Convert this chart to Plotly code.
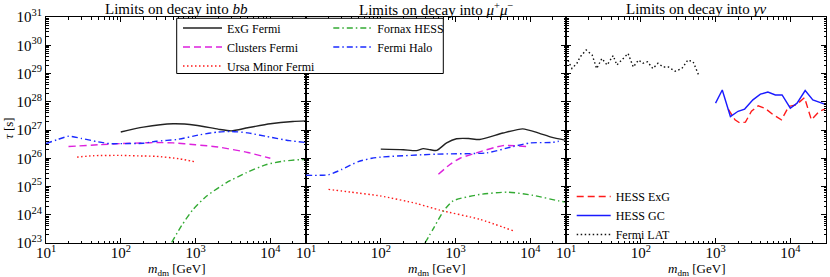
import plotly.graph_objects as go

# ---------------- data ----------------
# Panel 1: decay into b bbar
bb_exg_m = [100, 200, 500, 1000, 2000, 3000, 5000, 10000, 20000, 30000]
bb_exg_tau = [8.5e26, 1.26e27, 1.66e27, 1.48e27, 1.07e27, 9.3e26, 1.2e27, 1.66e27, 2.0e27, 2.1e27]

bb_clu_m = [20, 50, 100, 200, 300, 500, 1000, 2000, 5000, 10000]
bb_clu_tau = [2.6e26, 3.0e26, 3.3e26, 3.5e26, 3.6e26, 3.5e26, 3.0e26, 2.5e26, 1.6e26, 1.0e26]

bb_umi_m = [26, 43, 100, 200, 300, 620, 1000]
bb_umi_tau = [1.1e26, 1.23e26, 1.26e26, 1.2e26, 1.17e26, 9.5e25, 7.4e25]

bb_for_m = [480, 650, 930, 1410, 2570, 4790, 8900, 14800, 24500, 30000]
bb_for_tau = [1.05e23, 4.1e23, 1.55e24, 4.6e24, 1.35e25, 3.1e25, 6.0e25, 7.9e25, 8.9e25, 9.0e25]

bb_hal_m = [10, 14, 20, 30, 50, 70, 100, 200, 300, 560, 1150, 2000, 3000, 5000, 8900, 18000, 30000]
bb_hal_tau = [3.3e26, 4.5e26, 6.0e26, 5.0e26, 3.8e26, 3.3e26, 3.3e26, 3.4e26, 4.0e26, 4.6e26,
              6.8e26, 8.5e26, 8.9e26, 7.9e26, 5.9e26, 4.2e26, 3.6e26]

# Panel 2: decay into mu+ mu-
mu_exg_m = [100, 200, 300, 370, 460, 560, 760, 1030, 1500, 2100, 4300, 7900, 13000, 19000, 30000]
mu_exg_tau = [2.1e26, 2.0e26, 1.86e26, 2.2e26, 2.0e26, 1.9e26, 3.5e26, 4.9e26, 5.0e26, 4.6e26,
              7.8e26, 1.1e27, 7.8e26, 5.6e26, 4.3e26]

mu_clu_m = [590, 840, 1150, 1900, 4300, 8900]
mu_clu_tau = [2.7e25, 6.0e25, 1.0e26, 1.55e26, 2.8e26, 2.6e26]

mu_umi_m = [20, 40, 100, 300, 620, 2100, 5900]
mu_umi_tau = [7.9e24, 6.3e24, 4.6e24, 2.5e24, 1.45e24, 6.9e23, 2.7e23]

mu_for_m = [390, 500, 690, 930, 2100, 5000, 10700, 24000, 30000]
mu_for_tau = [1.0e23, 3.1e23, 1.35e24, 3.1e24, 5.2e24, 6.3e24, 4.9e24, 3.1e24, 2.8e24]

mu_hal_m = [10, 20, 30, 50, 76, 100, 560, 2600, 5900, 10000, 19000, 24000]
mu_hal_tau = [2.5e25, 2.6e25, 4.0e25, 7.6e25, 1.0e26, 1.1e26, 1.4e26, 1.55e26, 2.6e26, 3.5e26, 3.6e26, 4.0e26]

# Panel 3: decay into gamma nu
gn_exg_m = [1480, 1820, 2090, 2510, 3020, 3720, 4570, 5890, 7590, 9550, 12000, 15500, 19100, 24500, 28800]
gn_exg_tau = [5.5e27, 2.3e27, 1.8e27, 1.9e27, 4.6e27, 7.2e27, 5.9e27, 3.5e27, 2.3e27, 6.8e27,
              7.8e27, 1.4e28, 2.3e27, 4.6e27, 5.5e27]

gn_gc_m = [1000, 1230, 1580, 2000, 2450, 3160, 3980, 5010, 6310, 7760, 10000, 12300, 15800, 20000, 28800]
gn_gc_tau = [8.9e27, 2.6e28, 3.0e27, 4.6e27, 5.5e27, 1.17e28, 1.86e28, 2.2e28, 1.74e28, 1.74e28,
             5.9e27, 8.9e27, 2.5e28, 1.17e28, 8.3e27]

gn_lat_m = [10.1, 12.0, 14.0, 15.5, 18.6, 22.4, 25.7, 30.2, 35.5, 42.7, 47.9, 56.2, 67.6, 79.4, 93.3,
            107, 123, 145, 170, 200, 234, 288, 355, 427, 501, 589]
gn_lat_tau = [3.9e29, 1.5e29, 2.3e29, 3.9e29, 6.8e29, 4.5e29, 1.5e29, 3.4e29, 2.0e29, 4.3e29, 2.0e29,
              3.0e29, 5.1e29, 1.7e29, 3.0e29, 2.3e29, 2.6e29, 1.5e29, 2.3e29, 1.7e29, 1.7e29, 1.2e29,
              1.5e29, 3.0e29, 2.6e29, 9.3e28]

x_tickvals = [10, 100, 1000, 10000]
x_ticktext = ["10<sup>1</sup>", "10<sup>2</sup>", "10<sup>3</sup>", "10<sup>4</sup>"]
y_exps = [23, 24, 25, 26, 27, 28, 29, 30, 31]
y_tickvals = [10.0 ** e for e in y_exps]
y_ticktext = ["10<sup>%d</sup>" % e for e in y_exps]

panel_titles = ["Limits on decay into <i>bb</i>",
                "Limits on decay into <i>μ</i><sup>+</sup><i>μ</i><sup>−</sup>",
                "Limits on decay into <i>γν</i>"]

# ---------------- styles ----------------
FONT = "Liberation Serif"
C_BLACK = "#222222"
C_MAG = "#dd22dd"
C_RED = "#ff1a1a"
C_GREEN = "#33aa33"
C_BLUE = "#1a2aff"
DASH = "7px,4px"
DOT = "1.5px,2.5px"
DASHDOT = "6px,3px,1.5px,3px"
LW = 1.4

W, H = 830, 277
ML, MR, MT, MB = 46, 4, 17, 34
PW, PH = W - ML - MR, H - MT - MB


def px2x(px):
    return (px - ML) / PW


def px2y(py):
    return 1 - (py - MT) / PH


fig = go.Figure()


def add(m, tau, name, color, dash, panel, legend=None, rank=None):
    ax = "" if panel == 1 else str(panel)
    fig.add_trace(go.Scatter(
        x=m, y=tau, mode="lines", name=name,
        line=dict(color=color, dash=dash, width=LW, shape="spline", smoothing=0.6),
        xaxis="x" + ax, yaxis="y" + ax,
        showlegend=legend is not None,
        legend=legend if legend else "legend",
        legendrank=rank if rank else 1000,
    ))


# panel 1
add(bb_exg_m, bb_exg_tau, "ExG Fermi", C_BLACK, "solid", 1, "legend", 1)
add(bb_clu_m, bb_clu_tau, "Clusters Fermi", C_MAG, DASH, 1, "legend", 2)
add(bb_umi_m, bb_umi_tau, "Ursa Minor Fermi", C_RED, DOT, 1, "legend", 3)
add(bb_for_m, bb_for_tau, "Fornax HESS", C_GREEN, DASHDOT, 1, "legend2", 1)
add(bb_hal_m, bb_hal_tau, "Fermi Halo", C_BLUE, DASHDOT, 1, "legend2", 2)
# panel 2
add(mu_exg_m, mu_exg_tau, "ExG Fermi", C_BLACK, "solid", 2)
add(mu_clu_m, mu_clu_tau, "Clusters Fermi", C_MAG, DASH, 2)
add(mu_umi_m, mu_umi_tau, "Ursa Minor Fermi", C_RED, DOT, 2)
add(mu_for_m, mu_for_tau, "Fornax HESS", C_GREEN, DASHDOT, 2)
add(mu_hal_m, mu_hal_tau, "Fermi Halo", C_BLUE, DASHDOT, 2)
# panel 3 (straight segments)
for m, tau, name, color, dash, rank in [
    (gn_exg_m, gn_exg_tau, "HESS ExG", C_RED, DASH, 1),
    (gn_gc_m, gn_gc_tau, "HESS GC", "#1a1aff", "solid", 2),
    (gn_lat_m, gn_lat_tau, "Fermi LAT", "#111111", DOT, 3),
]:
    fig.add_trace(go.Scatter(
        x=m, y=tau, mode="lines", name=name,
        line=dict(color=color, dash=dash, width=LW),
        xaxis="x3", yaxis="y3", legend="legend3", legendrank=rank,
    ))

tickfont = dict(family=FONT, size=15, color="black")
common_x = dict(
    type="log", range=[1, 4.4771], showline=True, linecolor="black", linewidth=1,
    mirror="allticks", ticks="inside", ticklen=5, tickcolor="black", tickwidth=1,
    tickvals=x_tickvals, ticktext=x_ticktext, tickfont=tickfont, ticklabelstandoff=-4,
    showgrid=False, zeroline=False,
    minor=dict(ticks="inside", ticklen=2.5, tickcolor="black", showgrid=False,
               tickvals=[k * 10 ** e for e in range(1, 5) for k in range(2, 10)]),
)
common_y = dict(
    type="log", range=[23, 31], showline=True, linecolor="black", linewidth=1,
    mirror="allticks", ticks="inside", ticklen=5, tickcolor="black", tickwidth=1,
    tickvals=y_tickvals, ticktext=y_ticktext, tickfont=tickfont,
    showgrid=False, zeroline=False,
    minor=dict(ticks="inside", ticklen=2.5, tickcolor="black", showgrid=False,
               tickvals=[k * 10.0 ** e for e in range(23, 31) for k in range(2, 10)]),
)

legfont = dict(family=FONT, size=12, color="black")
fig.update_layout(
    width=W, height=H, margin=dict(l=ML, r=MR, t=MT, b=MB, autoexpand=False),
    plot_bgcolor="white", paper_bgcolor="white",
    font=dict(family=FONT, color="black"),
    xaxis=dict(common_x, domain=[0, 1 / 3], anchor="y", automargin=False),
    xaxis2=dict(common_x, domain=[1 / 3, 2 / 3], anchor="y2", automargin=False),
    xaxis3=dict(common_x, domain=[2 / 3, 1], anchor="y3", automargin=False),
    yaxis=dict(common_y, anchor="x", automargin=False),
    yaxis2=dict(common_y, anchor="x2", matches="y", showticklabels=False, automargin=False),
    yaxis3=dict(common_y, anchor="x3", matches="y", showticklabels=False, automargin=False),
    showlegend=True,
    legend=dict(x=px2x(178), y=px2y(13.5), xanchor="left", yanchor="top",
                bgcolor="rgba(0,0,0,0)", borderwidth=0, itemwidth=39,
                font=legfont, traceorder="normal"),
    legend2=dict(x=px2x(328.3), y=px2y(13.5), xanchor="left", yanchor="top",
                 bgcolor="rgba(0,0,0,0)", borderwidth=0, itemwidth=39,
                 font=legfont, traceorder="normal"),
    legend3=dict(x=px2x(571.7), y=px2y(182), xanchor="left", yanchor="top",
                 bgcolor="rgba(0,0,0,0)", borderwidth=0, itemwidth=34,
                 font=legfont, traceorder="normal"),
)

# legend frame for the first legend block
fig.add_shape(type="rect", xref="paper", yref="paper",
              x0=px2x(176.7), x1=px2x(443.3), y0=px2y(73.5), y1=px2y(18.3),
              line=dict(color="black", width=1), fillcolor="white", layer="above")

annotations = []
centers = [1 / 6, 0.5, 5 / 6]
for c, t in zip(centers, panel_titles):
    annotations.append(dict(text=t, x=c, y=px2y(9), xref="paper", yref="paper",
                            showarrow=False, xanchor="center", yanchor="middle",
                            font=dict(family=FONT, size=15, color="black")))
    annotations.append(dict(text="<i>m</i><sub>dm</sub> [GeV]", x=c, y=px2y(269), xref="paper",
                            yref="paper", showarrow=False, xanchor="center", yanchor="middle",
                            font=dict(family=FONT, size=13, color="black")))
annotations.append(dict(text="<i>τ</i> [s]", x=px2x(8), y=px2y(128), xref="paper", yref="paper",
                        showarrow=False, textangle=-90, xanchor="center", yanchor="middle",
                        font=dict(family=FONT, size=13, color="black")))
fig.update_layout(annotations=annotations)

# remove the browser's default 8px page margin so the figure sits at the window origin
fig.write_html("out.html", config={"displayModeBar": False},
               post_script="document.body.style.margin='0';")
